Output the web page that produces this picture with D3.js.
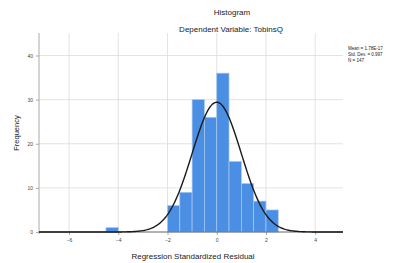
<!DOCTYPE html>
<html>
<head>
<meta charset="utf-8">
<script src="https://cdn.jsdelivr.net/npm/d3@7"></script>
<style>
  body { margin: 0; background: #fff; }
  text { font-family: "Liberation Sans", Arial, sans-serif; fill: #222; }
</style>
</head>
<body>
<div id="chart"></div>
<script>
// histogram bins (lower edge, width 0.5) and counts
const binStarts = [-4.5, -2, -1.5, -1, -0.5, 0, 0.5, 1, 1.5, 2];
const binCounts = [1, 6, 9, 30, 26, 36, 16, 11, 7, 5];
const binWidth = 0.5;
const xTicks = [-6, -4, -2, 0, 2, 4];
const yTicks = [0, 10, 20, 30, 40];
const stats = { mean: 1.78e-17, sd: 0.997, n: 147 };
const statLines = ["Mean = 1.78E-17", "Std. Dev. = 0.997", "N = 147"];

const width = 398, height = 263;
const margin = {top: 33, right: 55, bottom: 31, left: 39};

const svg = d3.select("#chart").append("svg")
    .attr("width", width)
    .attr("height", height);

const x = d3.scaleLinear()
    .domain([-7.22, 5.13])
    .range([margin.left, width - margin.right]);

const y = d3.scaleLinear()
    .domain([0, 45.1])
    .range([height - margin.bottom, margin.top]);

// grid lines
svg.append("g")
    .selectAll("line")
    .data(xTicks)
    .enter()
    .append("line")
    .attr("x1", d => x(d)).attr("x2", d => x(d))
    .attr("y1", y(0)).attr("y2", margin.top)
    .style("stroke", "#dcdcdc")
    .style("stroke-width", 0.8);

svg.append("g")
    .selectAll("line")
    .data(yTicks.filter(d => d > 0))
    .enter()
    .append("line")
    .attr("x1", margin.left).attr("x2", width - margin.right)
    .attr("y1", d => y(d)).attr("y2", d => y(d))
    .style("stroke", "#dcdcdc")
    .style("stroke-width", 0.8);

// bars
svg.append("g")
    .selectAll("rect")
    .data(binStarts.map((s, i) => ({s: s, c: binCounts[i]})))
    .enter()
    .append("rect")
    .attr("x", d => x(d.s))
    .attr("width", d => x(d.s + binWidth) - x(d.s))
    .attr("y", d => y(d.c))
    .attr("height", d => y(0) - y(d.c))
    .style("fill", "#4a8fe3")
    .style("stroke", "#a9c9f0")
    .style("stroke-width", 0.7);

// axes
const xAxis = svg.append("g")
    .attr("transform", "translate(0," + y(0) + ")")
    .call(d3.axisBottom(x).tickValues(xTicks).tickSize(3).tickFormat(d3.format("d")));
const yAxis = svg.append("g")
    .attr("transform", "translate(" + margin.left + ",0)")
    .call(d3.axisLeft(y).tickValues(yTicks).tickSize(3));

[xAxis, yAxis].forEach(a => {
    a.select(".domain").remove();
    a.selectAll(".tick line").style("stroke", "#aaa");
    a.selectAll(".tick text").style("font-size", "5px").style("fill", "#444");
});

svg.append("line")
    .attr("x1", margin.left).attr("x2", margin.left)
    .attr("y1", margin.top).attr("y2", y(0) + 2)
    .style("stroke", "#aaa").style("stroke-width", 1);
svg.append("line")
    .attr("x1", margin.left).attr("x2", width - margin.right)
    .attr("y1", y(0)).attr("y2", y(0))
    .style("stroke", "#666").style("stroke-width", 1.2);

// normal curve
const scaleN = stats.n * binWidth / (stats.sd * Math.sqrt(2 * Math.PI));
const curvePts = d3.range(x.domain()[0], x.domain()[1] + 0.01, 0.05)
    .map(v => [v, scaleN * Math.exp(-0.5 * Math.pow((v - stats.mean) / stats.sd, 2))]);

svg.append("path")
    .datum(curvePts)
    .attr("d", d3.line().x(d => x(d[0])).y(d => y(d[1])))
    .style("fill", "none")
    .style("stroke", "#1a1a1a")
    .style("stroke-width", 1.4);

// titles
svg.append("text")
    .attr("x", 232).attr("y", 15)
    .attr("text-anchor", "middle")
    .style("font-size", "8px")
    .text("Histogram");
svg.append("text")
    .attr("x", 231).attr("y", 32)
    .attr("text-anchor", "middle")
    .style("font-size", "8px")
    .text("Dependent Variable: TobinsQ");

svg.append("text")
    .attr("x", 193).attr("y", 259)
    .attr("text-anchor", "middle")
    .style("font-size", "8px")
    .text("Regression Standardized Residual");

svg.append("text")
    .attr("transform", "translate(19," + 133 + ") rotate(-90)")
    .attr("text-anchor", "middle")
    .style("font-size", "7.5px")
    .text("Frequency");

// stats box
svg.append("g")
    .selectAll("text")
    .data(statLines)
    .enter()
    .append("text")
    .attr("x", 348)
    .attr("y", (d, i) => 50 + i * 6)
    .style("font-size", "4.5px")
    .text(d => d);
</script>
</body>
</html>
